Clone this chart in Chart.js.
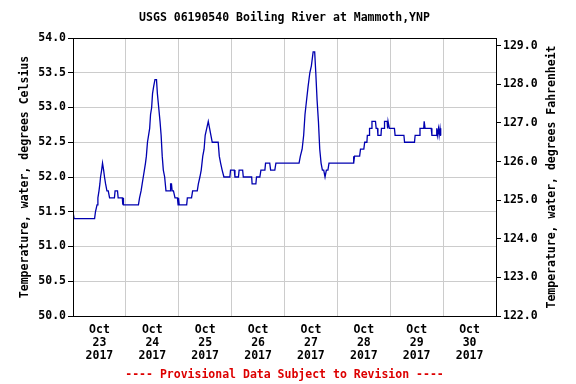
<!DOCTYPE html>
<html>
<head>
<meta charset="utf-8">
<script src="https://cdn.jsdelivr.net/npm/chart.js@4/dist/chart.umd.min.js"></script>
<style>
  body { margin: 0; background: #fff; }
  canvas { display: block; }
</style>
</head>
<body>
<canvas id="chart" width="576" height="384"></canvas>
<script>
// Boiling River water temperature, hours since Oct 23 2017 00:00
const hours = [
  0, 0.5, 9.8, 10.2, 10.9, 11.3, 11.8, 12.2, 12.5, 13.0, 13.4, 13.9, 14.3, 14.8, 15.4, 16.0,
  16.6, 18.8, 19.1, 20.2, 20.5, 22.4, 22.6, 22.7, 22.9, 29.7, 30.2, 30.9, 31.4, 31.9, 32.4,
  32.9, 33.3, 33.8, 34.3, 34.8, 35.2, 35.7, 36.1, 36.6, 37.2, 37.9, 38.3, 38.9, 39.5, 40.0,
  40.5, 41.0, 41.6, 42.2, 44.1, 44.3, 44.7, 45.0, 45.6, 46.3, 47.4, 47.7, 47.9, 48.2, 51.6,
  51.9, 53.8, 54.3, 56.4, 56.9, 57.6, 58.2, 58.9, 59.5, 60.0, 60.7, 61.4, 62.0, 62.6, 63.2,
  65.9, 66.4, 67.0, 67.7, 68.5, 71.2, 71.5, 73.2, 73.5, 75.1, 75.4, 77.0, 77.3, 81.1, 81.3,
  83.0, 83.3, 84.8, 85.3, 87.1, 87.4, 89.3, 89.7, 91.6, 92.1, 102.6, 103.2, 104.0, 104.7,
  105.3, 106.0, 106.7, 107.5, 108.2, 108.6, 109.0, 109.7, 110.2, 110.8, 111.4, 112.0, 112.6,
  113.2, 113.8, 114.4, 115.0, 115.7, 116.2, 127.1, 127.3, 127.5, 127.8, 130.1, 130.5, 132.0,
  132.4, 133.4, 133.6, 134.4, 134.6, 135.5, 135.7, 137.3, 137.6, 138.2, 138.4, 139.8, 140.0,
  141.2, 141.4, 142.6, 142.8, 143.0, 143.4, 143.6, 145.9, 146.2, 150.2, 150.5, 155.0, 155.3,
  157.3, 157.5, 159.2, 159.4, 159.8, 162.6, 162.9, 164.8, 165.1, 165.4, 165.9, 166.2, 166.6,
  166.9, 167.1
];
const tempC = [
  51.5, 51.4, 51.4, 51.5, 51.6, 51.7, 51.8, 51.9, 52.0, 52.1, 52.2, 52.1, 52.0, 51.9, 51.8, 51.8,
  51.7, 51.7, 51.8, 51.8, 51.7, 51.7, 51.6, 51.7, 51.6, 51.6, 51.7, 51.8, 51.9, 52.0, 52.1,
  52.2, 52.3, 52.5, 52.6, 52.7, 52.9, 53.0, 53.2, 53.3, 53.4, 53.4, 53.2, 53.0, 52.8, 52.6,
  52.3, 52.1, 52.0, 51.8, 51.8, 51.9, 51.9, 51.8, 51.8, 51.7, 51.7, 51.6, 51.7, 51.6, 51.6,
  51.7, 51.7, 51.8, 51.8, 51.9, 52.0, 52.1, 52.3, 52.4, 52.6, 52.7, 52.8, 52.7, 52.6, 52.5,
  52.5, 52.3, 52.2, 52.1, 52.0, 52.0, 52.1, 52.1, 52.0, 52.0, 52.1, 52.1, 52.0, 52.0, 51.9,
  51.9, 52.0, 52.0, 52.1, 52.1, 52.2, 52.2, 52.1, 52.1, 52.2, 52.2, 52.3, 52.4, 52.6,
  52.9, 53.1, 53.3, 53.5, 53.6, 53.7, 53.8, 53.8, 53.5, 53.1, 52.8, 52.4, 52.2,
  52.1, 52.1, 52.0, 52.1, 52.1, 52.2, 52.2, 52.3, 52.2, 52.3, 52.3, 52.4, 52.4,
  52.5, 52.5, 52.6, 52.6, 52.7, 52.7, 52.8, 52.8, 52.7, 52.7, 52.6, 52.6, 52.7,
  52.7, 52.8, 52.8, 52.7, 52.8, 52.8, 52.7, 52.7, 52.6, 52.6, 52.5, 52.5, 52.6,
  52.6, 52.7, 52.7, 52.8, 52.7, 52.7, 52.6, 52.6, 52.7, 52.6, 52.7, 52.6, 52.7,
  52.6, 52.6
];

const dayLabels = ['23', '24', '25', '26', '27', '28', '29', '30'];
const monthLabel = 'Oct';
const yearLabel = '2017';
const celsiusTicks = [50.0, 50.5, 51.0, 51.5, 52.0, 52.5, 53.0, 53.5, 54.0];
const fahrenheitTicks = [122, 123, 124, 125, 126, 127, 128, 129];

const titleText = 'USGS 06190540 Boiling River at Mammoth,YNP';
const footerText = '---- Provisional Data Subject to Revision ----';
const leftTitle = 'Temperature, water, degrees Celsius';
const rightTitle = 'Temperature, water, degrees Fahrenheit';

const FONT = '"DejaVu Sans Mono", monospace';
const toF = c => c * 1.8 + 32;

// title, footer, right axis title and the frame round the plot
const usgsText = {
  id: 'usgsText',
  afterDraw(chart) {
    const { ctx, chartArea } = chart;
    const cx = (chartArea.left + chartArea.right) / 2;
    ctx.save();
    ctx.strokeStyle = '#000';
    ctx.lineWidth = 1;
    ctx.strokeRect(Math.round(chartArea.left) + 0.5, Math.round(chartArea.top) + 0.5,
      Math.round(chartArea.right - chartArea.left), Math.round(chartArea.bottom - chartArea.top));
    ctx.font = 'bold 11.5px ' + FONT;
    ctx.textAlign = 'center';
    ctx.textBaseline = 'middle';
    ctx.fillStyle = '#000';
    ctx.fillText(titleText, cx, 18);
    ctx.fillStyle = '#dd0000';
    ctx.fillText(footerText, cx, 375);
    ctx.fillStyle = '#000';
    ctx.translate(552, (chartArea.top + chartArea.bottom) / 2);
    ctx.rotate(-Math.PI / 2);
    ctx.fillText(rightTitle, 0, 0);
    ctx.restore();
  }
};

new Chart(document.getElementById('chart').getContext('2d'), {
  type: 'line',
  data: {
    datasets: [{
      data: hours.map((h, i) => ({ x: h, y: tempC[i] })),
      borderColor: '#0000b0',
      borderWidth: 1.3,
      pointRadius: 0,
      tension: 0,
      fill: false
    }]
  },
  options: {
    responsive: false,
    animation: false,
    events: [],
    layout: { padding: { top: 38, left: 0, right: 0, bottom: 0 } },
    plugins: { legend: { display: false }, tooltip: { enabled: false } },
    scales: {
      x: {
        type: 'linear',
        min: 0,
        max: dayLabels.length * 24,
        afterBuildTicks: s => {
          const t = [];
          for (let v = 0; v <= dayLabels.length * 24; v += 12) t.push({ value: v });
          s.ticks = t;
        },
        afterFit: s => { s.height = 68; },
        grid: {
          color: c => (c.tick && c.tick.value % 24 === 0) ? '#cccccc' : 'rgba(0,0,0,0)',
          drawTicks: false
        },
        border: { color: '#000' },
        ticks: {
          autoSkip: false,
          maxRotation: 0,
          padding: 8,
          color: '#000',
          font: { family: FONT, size: 11.5, weight: 'bold', lineHeight: 1.12 },
          callback: v => v % 24 === 12 ? [monthLabel, dayLabels[(v - 12) / 24], yearLabel] : ''
        }
      },
      y: {
        position: 'left',
        min: celsiusTicks[0],
        max: celsiusTicks[celsiusTicks.length - 1],
        afterBuildTicks: s => { s.ticks = celsiusTicks.map(v => ({ value: v })); },
        afterFit: s => { s.width = 73; },
        grid: { color: '#cccccc', tickColor: '#000', tickLength: 5 },
        border: { color: '#000' },
        ticks: {
          padding: 2,
          color: '#000',
          font: { family: FONT, size: 11.5, weight: 'bold' },
          callback: v => v.toFixed(1)
        },
        title: {
          display: true,
          text: leftTitle,
          color: '#000',
          padding: { top: 18, bottom: 0 },
          font: { family: FONT, size: 11.5, weight: 'bold' }
        }
      },
      yF: {
        position: 'right',
        min: toF(celsiusTicks[0]),
        max: toF(celsiusTicks[celsiusTicks.length - 1]),
        afterBuildTicks: s => { s.ticks = fahrenheitTicks.map(v => ({ value: v })); },
        afterFit: s => { s.width = 80; },
        grid: { drawOnChartArea: false, tickColor: '#000', tickLength: 5 },
        border: { color: '#000' },
        ticks: {
          padding: 2,
          color: '#000',
          font: { family: FONT, size: 11.5, weight: 'bold' },
          callback: v => v.toFixed(1)
        }
      }
    }
  },
  plugins: [usgsText]
});
</script>
</body>
</html>
